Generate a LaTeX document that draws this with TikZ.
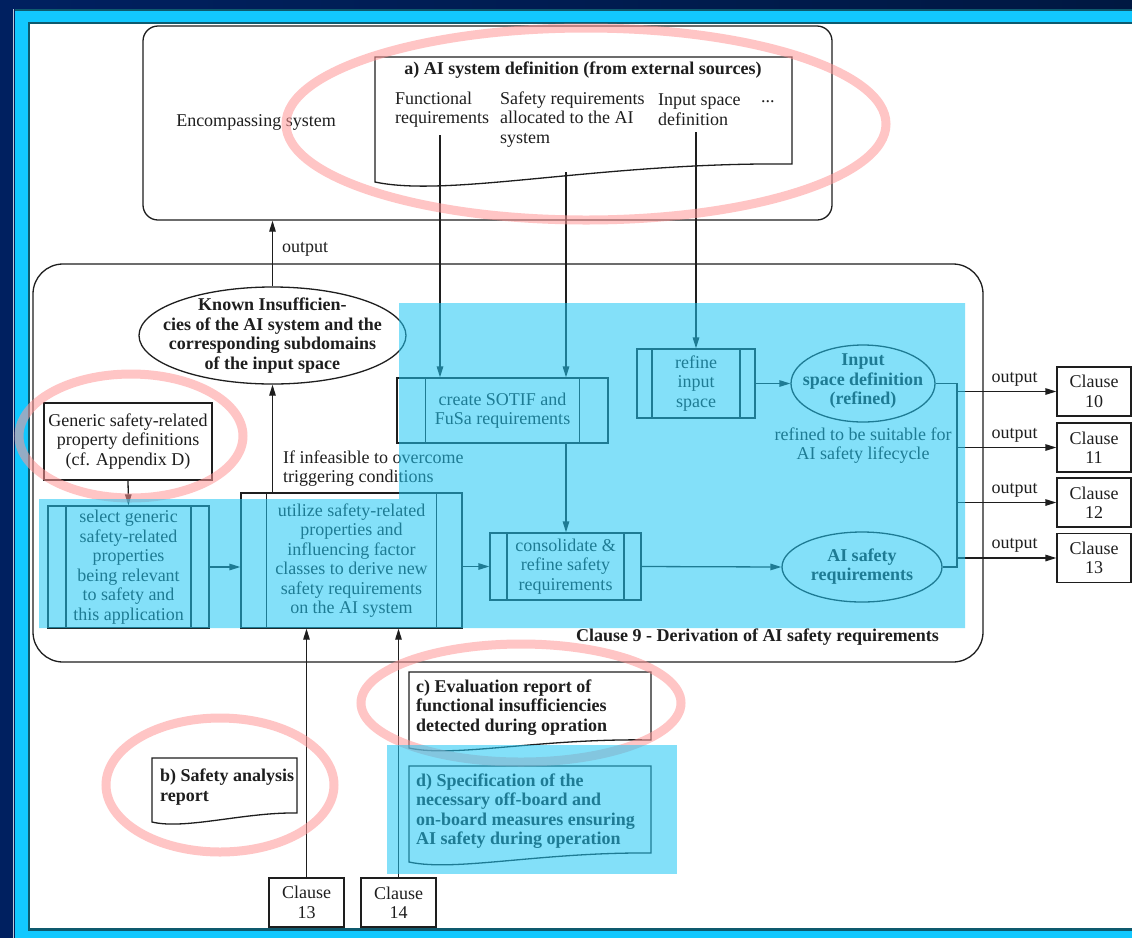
\documentclass[tikz,border=0pt]{standalone}
\usepackage{fontspec}
\setmainfont{Liberation Serif}
\usetikzlibrary{shapes.geometric, arrows.meta, positioning}

\definecolor{navybg}{RGB}{0, 32, 96}
\definecolor{navydark}{RGB}{0, 24, 66}
\definecolor{framecyan}{RGB}{18, 200, 255}
\definecolor{frameteal}{RGB}{14, 90, 110}
\definecolor{hlcyan}{RGB}{30, 200, 245}
\definecolor{ringpink}{RGB}{255, 150, 150}
\definecolor{inkgray}{RGB}{30, 30, 30}

\tikzset{
  txt/.style={font=\fontsize{18}{19.5}\selectfont, text=inkgray, align=center, inner sep=0pt},
  btxt/.style={txt, font=\fontsize{18}{19.5}\selectfont\bfseries},
  box/.style={txt, draw=inkgray, line width=1.3pt, rectangle},
  procbox/.style={box, path picture={
      \draw[inkgray, line width=1.3pt]
        ([xshift=#1]path picture bounding box.north west) -- ([xshift=#1]path picture bounding box.south west)
        ([xshift=-#1]path picture bounding box.north east) -- ([xshift=-#1]path picture bounding box.south east);}},
  ell/.style={draw=inkgray, line width=1.3pt, ellipse, inner sep=0pt},
  ln/.style={draw=inkgray, line width=1.3pt},
  arr/.style={ln, -{Triangle[length=11pt, width=6.5pt]}},
  docline/.style={draw=inkgray, line width=1.3pt},
  ring/.style={draw=ringpink, line width=9pt, opacity=0.55},
  highlight/.style={fill=hlcyan, opacity=0.55}
}

\begin{document}
\begin{tikzpicture}[x=1pt, y=-1pt]
  \useasboundingbox (0,0) rectangle (1132,938);
  % screen frame
  \fill[navybg] (0,0) rectangle (1132,938);
  \shade[left color=navybg, right color=navydark] (0,0) rectangle (1132,9);
  \fill[framecyan] (15,10) rectangle (1132,938);
  \draw[frameteal, line width=2pt] (15,9.5) -- (1132,9.5);
  \draw[white!75!navybg, line width=1pt] (13.5,9) -- (13.5,938);
  \draw[frameteal, line width=2.5pt, fill=white] (28.75,22.75) rectangle (1140,929.25);

  % encompassing system
  \node[box, rounded corners=15pt, minimum width=689, minimum height=194] (encsys) at (487.5,123) {};
  \node[txt] (enctxt) at (256,122) {Encompassing system};
  \draw[docline, fill=white] (375,57) -- (792,57) -- (792,164)
    .. controls (600,162) and (450,198) .. (375,182) -- cycle;
  \node[btxt] (atitle) at (583,70) {a) AI system definition (from external sources)};
  \node[txt, align=left, anchor=west] (funreq) at (395,109.5) {Functional\\requirements};
  \node[txt, align=left, anchor=west] (safreq) at (500,119.5) {Safety requirements\\allocated to the AI\\system};
  \node[txt, align=left, anchor=west] (inpdef) at (658,109.5) {Input space\\definition};
  \node[txt, anchor=west] (more) at (761,102) {...};
  \coordinate (fr-top) at (440,135);
  \coordinate (sr-top) at (566,172);
  \coordinate (is-top) at (696,132);

  % clause 9
  \node[box, rounded corners=30pt, minimum width=950, minimum height=398] (clause9) at (508,463) {};
  \node[btxt, anchor=east] (c9title) at (939,637) {Clause 9 - Derivation of AI safety requirements};

  \node[ell, minimum width=267, minimum height=97] (known) at (272.5,335.5) {};
  \node[btxt] (knowntxt) at (known.center) {Known Insufficien-\\cies of the AI system and the\\corresponding subdomains\\of the input space};
  \draw[arr] (known.north) -- (known.north |- encsys.south) node[txt, pos=0.57, right=9pt] {output};

  \node[box, minimum width=168, minimum height=77] (generic) at (128,441.5) {Generic safety-related\\property definitions\\(cf. Appendix D)};
  \node[procbox=18pt, minimum width=161, minimum height=122] (select) at (128.5,567) {select generic\\safety-related\\properties\\being relevant\\to safety and\\this application};
  \node[procbox=25.5pt, minimum width=221, minimum height=135] (utilize) at (351.5,560.5) {utilize safety-related\\properties and\\influencing factor\\classes to derive new\\safety requirements\\on the AI system};
  \node[procbox=28.5pt, minimum width=211, minimum height=65] (sotif) at (502.5,410.5) {create SOTIF and\\FuSa requirements};
  \node[procbox=17pt, minimum width=151, minimum height=67] (consol) at (565.5,566.5) {consolidate \&\\refine safety\\requirements};
  \node[procbox=15pt, minimum width=118, minimum height=69] (refine) at (696,383.5) {refine\\input\\space};
  \node[ell, minimum width=144, minimum height=77] (inspace) at (863,383.5) {};
  \node[btxt] (inspacetxt) at (863,381.5) {Input\\space definition\\(refined)};
  \node[txt] (suitable) at (863,445.5) {refined to be suitable for\\AI safety lifecycle};
  \node[ell, minimum width=160, minimum height=70] (aisafe) at (862,567) {};
  \node[btxt] (aisafetxt) at (862,566.5) {AI safety\\requirements};

  \draw[arr] (generic.south) -- (select.north);
  \draw[arr] (select.east) -- (select.east -| utilize.west);
  \draw[arr] (utilize.north -| known.south) -- (known.south)
    node[txt, align=left, pos=0.22, right=10pt] {If infeasible to overcome\\triggering conditions};
  \draw[arr] (utilize.east |- consol.west) -- (consol.west);
  \draw[arr] (fr-top) -- (fr-top |- sotif.north);
  \draw[arr] (sr-top) -- (sr-top |- sotif.north);
  \draw[arr] (sotif.south -| sr-top) -- (sr-top |- consol.north);
  \draw[arr] (is-top) -- (refine.north);
  \draw[arr] (refine.east) -- (inspace.west);
  \draw[arr] (consol.east) -- (aisafe.west);

  % outputs
  \coordinate (bustop) at (957,383.5);
  \coordinate (busbot) at (957,567);
  \draw[ln] (inspace.east) -- (bustop) -- (busbot) -- (aisafe.east);
  \foreach \n/\y in {10/391.5, 11/447.5, 12/502.5, 13/558}{
    \node[box, minimum width=74, minimum height=49] (cl\n) at (1094,\y) {Clause\\\n};
    \draw[arr] (bustop |- cl\n.west) -- (cl\n.west) node[txt, pos=0.58, above=5pt] {output};
  }

  % inputs from below
  \node[box, minimum width=75, minimum height=49] (cl13in) at (306.5,902.5) {Clause\\13};
  \node[box, minimum width=75, minimum height=49] (cl14in) at (398.5,902.5) {Clause\\14};
  \draw[arr] (cl13in.north) -- (cl13in.north |- utilize.south);
  \draw[arr] (cl14in.north) -- (cl14in.north |- utilize.south);

  \draw[docline] (152,758) -- (297,758) -- (297,813)
    .. controls (245,812) and (185,830) .. (152,822) -- cycle;
  \node[btxt, align=left, anchor=west] (bdoc) at (160,787) {b) Safety analysis\\report};
  \draw[docline] (409,672) -- (651,672) -- (651,740)
    .. controls (540,738) and (455,758) .. (409,748) -- cycle;
  \node[btxt, align=left, anchor=west] (cdoc) at (416,707.5) {c) Evaluation report of\\functional insufficiencies\\detected during opration};
  \draw[docline] (409,766) -- (651,766) -- (651,853)
    .. controls (540,852) and (455,872) .. (409,862) -- cycle;
  \node[btxt, align=left, anchor=west] (ddoc) at (416,811) {d) Specification of the\\necessary off-board and\\on-board measures ensuring\\AI safety during operation};

  % marks
  \draw[ring] (586,124) ellipse [x radius=300pt, y radius=96pt];
  \draw[ring] (131,436) ellipse [x radius=112pt, y radius=62pt];
  \draw[ring] (521,703) ellipse [x radius=160pt, y radius=59pt];
  \draw[ring] (220,785) ellipse [x radius=114pt, y radius=67pt];
  \fill[highlight] (39,499) -- (399,499) -- (399,303) -- (965,303) -- (965,628) -- (39,628) -- cycle;
  \fill[highlight] (387,745) rectangle (677,874);
\end{tikzpicture}
\end{document}
